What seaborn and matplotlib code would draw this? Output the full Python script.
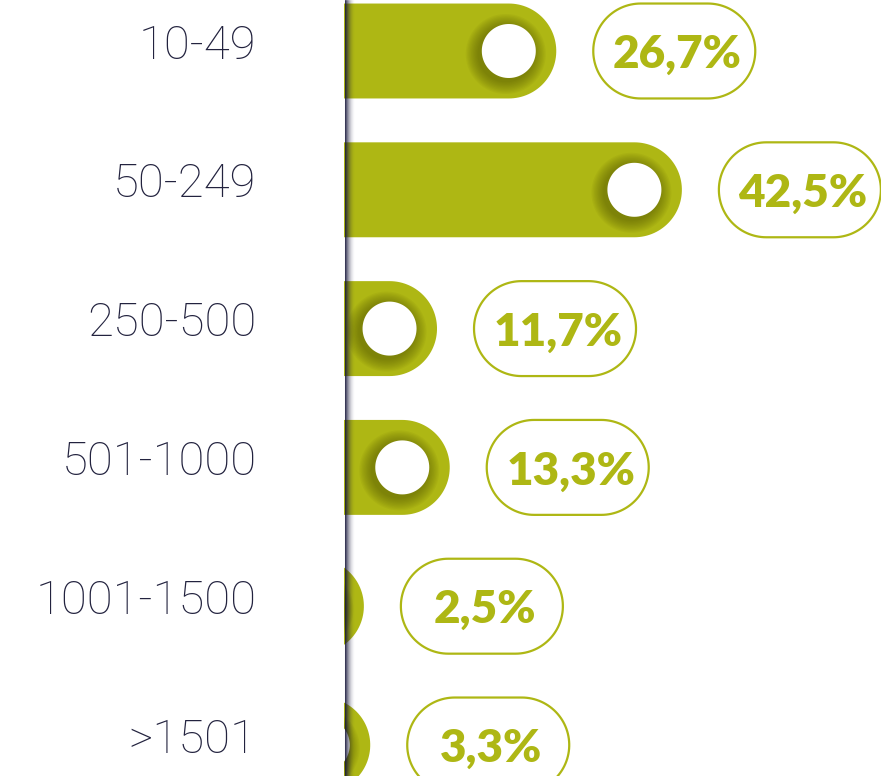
import numpy as np
import pandas as pd
import matplotlib
matplotlib.use("Agg")
import matplotlib.pyplot as plt
import matplotlib.transforms as mtransforms
import seaborn as sns
from matplotlib.patches import Polygon

# ---- data ----
categories = ["10-49", "50-249", "250-500", "501-1000", "1001-1500", ">1501"]
values = [26.7, 42.5, 11.7, 13.3, 2.5, 3.3]
value_labels = ["26,7%", "42,5%", "11,7%", "13,3%", "2,5%", "3,3%"]

OLIVE = "#aeb714"
NAVY = "#23233f"
W, H = 881, 776

sns.set_theme(style="white")
plt.rcParams["font.family"] = ["Lato", "DejaVu Sans"]

fig = plt.figure(figsize=(W / 100, H / 100), dpi=100)
fig.patch.set_facecolor("white")
ax = fig.add_axes([344 / W, 0, (W - 344) / W, 1])

df = pd.DataFrame({"size": categories, "share": values})
sns.barplot(data=df, x="share", y="size", orient="h", color=OLIVE,
            width=0.684, saturation=1, ax=ax)

ax.set_xlim(0, (W - 344) / 7.95)
ax.set_ylim(5 + (H - 745) / 138.8, -51 / 138.8)
ax.set_xlabel("")
ax.set_ylabel("")
ax.set_xticks([])
ax.set_yticks(range(len(categories)))
ax.set_yticklabels(categories, fontsize=34, color=NAVY,
                   fontfamily=["Roboto", "DejaVu Sans"], fontweight="light")
ax.tick_params(axis="y", length=0, pad=63)
shift = mtransforms.ScaledTranslation(0, 10 / 100, fig.dpi_scale_trans)
for t in ax.get_yticklabels():
    t.set_transform(t.get_transform() + shift)
for s in ax.spines.values():
    s.set_visible(False)
ax.set_facecolor("white")


def px2data(pts):
    pts = np.asarray(pts, float)
    disp = np.column_stack([pts[:, 0], H - pts[:, 1]])
    return ax.transData.inverted().transform(disp)


def data2px(x, y):
    d = ax.transData.transform((x, y))
    return d[0], H - d[1]


def circle_pts(cx, cy, r, n=90):
    t = np.linspace(0, 2 * np.pi, n)
    return np.column_stack([cx + r * np.cos(t), cy + r * np.sin(t)])


bars = list(ax.patches)
for p, lab in zip(bars, value_labels):
    x0, w, y0, h = p.get_x(), p.get_width(), p.get_y(), p.get_height()
    lx, ty = data2px(x0, y0)
    rx, by = data2px(x0 + w, y0 + h)
    top, bot = min(ty, by), max(ty, by)
    cy = (top + bot) / 2
    r = (bot - top) / 2
    p.set_visible(False)
    cx = rx - r
    t = np.linspace(-np.pi / 2, np.pi / 2, 60)
    arc = np.column_stack([cx + r * np.cos(t), cy + r * np.sin(t)])
    pts = np.vstack([[lx - 300, top], arc, [lx - 300, bot]])
    ax.add_patch(Polygon(px2data(pts), closed=True, facecolor=OLIVE,
                         edgecolor="none", zorder=2))
    # hole shadow
    for k in range(10, 0, -1):
        ax.add_patch(Polygon(px2data(circle_pts(cx - 3, cy + 3, 27 + 1.3 * k)),
                             closed=True, facecolor="#4a4d00", edgecolor="none",
                             alpha=0.06, zorder=3))
    ax.add_patch(Polygon(px2data(circle_pts(cx, cy, 27)), closed=True,
                         facecolor="white", edgecolor="none", zorder=4))
    # pill label
    pl = rx + 37
    pw = 162
    pr = r
    t1 = np.linspace(np.pi / 2, 3 * np.pi / 2, 60)
    t2 = np.linspace(-np.pi / 2, np.pi / 2, 60)
    left_arc = np.column_stack([pl + pr + pr * np.cos(t1), cy + pr * np.sin(t1)])
    right_arc = np.column_stack([pl + pw - pr + pr * np.cos(t2), cy + pr * np.sin(t2)])
    pill = np.vstack([right_arc, left_arc])
    ax.add_patch(Polygon(px2data(pill), closed=True, facecolor="none",
                         edgecolor=OLIVE, lw=1.6, zorder=3, clip_on=False))
    tx, tyd = px2data([[pl + pw / 2 + 3, cy + 17]])[0]
    ax.text(tx, tyd, lab, ha="center", va="baseline", fontsize=33,
            fontweight="heavy", color=OLIVE, zorder=5, clip_on=False)

# axis shadow
for k in range(10):
    xd = px2data([[344 + k + 0.5, 0]])[0][0]
    ax.axvline(xd, color="#15153a", alpha=0.85 * (1 - k / 10) ** 2,
               lw=0.75, zorder=6)

fig.savefig("out.png", dpi=100, facecolor="white")
